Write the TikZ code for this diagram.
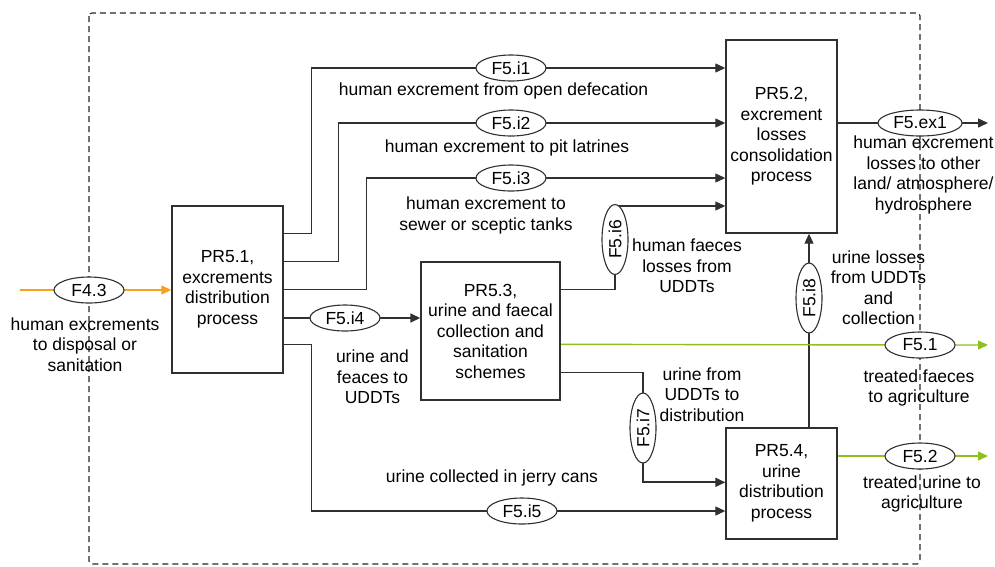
\documentclass[tikz,border=0pt]{standalone}
\usepackage{fontspec}
\setmainfont{Liberation Sans}
\usetikzlibrary{arrows.meta,shapes.geometric,backgrounds,calc}
\definecolor{ln}{HTML}{303030}
\definecolor{orng}{HTML}{F7A21B}
\definecolor{grn}{HTML}{8CC21E}
\begin{document}
\begin{tikzpicture}[x=1pt,y=-1pt,
  font=\fontsize{17.5}{20.5}\selectfont,
  proc/.style={draw=ln, line width=1.4pt, fill=white, align=center, inner sep=0pt},
  flowid/.style={ellipse, draw=ln, line width=1.1pt, fill=white, inner xsep=3pt, inner ysep=2pt, minimum width=70pt, minimum height=26pt},
  lbl/.style={align=center, inner sep=0pt, text=black},
  conn/.style={draw=ln, line width=1.2pt},
  arr/.style={conn, -{Triangle[length=10pt,width=9pt]}},
  oarr/.style={draw=orng, line width=1.2pt, -{Triangle[length=10pt,width=9pt]}},
  garr/.style={draw=grn, line width=1.4pt, -{Triangle[length=10pt,width=9pt]}},
  frame/.style={draw=black!85, line width=1.1pt, dash pattern=on 6pt off 4pt, rounded corners=3pt}
]
\useasboundingbox (0,0) rectangle (995,566);

% process boxes
\node[proc, minimum width=111pt, minimum height=167pt] (pr51) at (227.5,289.5) {PR5.1,\\excrements\\distribution\\process};
\node[proc, minimum width=111pt, minimum height=193pt] (pr52) at (781.5,136.5) {PR5.2,\\excrement\\losses\\consolidation\\process};
\node[proc, minimum width=139pt, minimum height=138pt] (pr53) at (490.5,331) {PR5.3,\\urine and faecal\\collection and\\sanitation\\schemes};
\node[proc, minimum width=111pt, minimum height=111pt] (pr54) at (781.5,483.5) {PR5.4,\\urine\\distribution\\process};

% flow identifiers
\node[flowid] (f43) at (89,290) {F4.3};
\node[flowid] (f5i1) at (511,68) {F5.i1};
\node[flowid] (f5i2) at (511,123) {F5.i2};
\node[flowid] (f5i3) at (511,178) {F5.i3};
\node[flowid] (f5i4) at (345,318) {F5.i4};
\node[flowid] (f5i5) at (522,511) {F5.i5};
\node[flowid, rotate=90] (f5i6) at (615,239.5) {F5.i6};
\node[flowid, rotate=90] (f5i7) at (643,428) {F5.i7};
\node[flowid, rotate=90] (f5i8) at (809,298) {F5.i8};
\node[flowid] (f5ex1) at (920,123) {F5.ex1};
\node[flowid] (f51) at (920,345) {F5.1};
\node[flowid] (f52) at (920,456) {F5.2};

% labels
\node[lbl] (l43) at (85,344.5) {human excrements\\to disposal or\\sanitation};
\node[lbl] (l1) at (493.5,91) {human excrement from open defecation};
\node[lbl] (l2) at (507,148) {human excrement to pit latrines};
\node[lbl] (l3) at (486,215.5) {human excrement to\\sewer or sceptic tanks};
\node[lbl] (l4) at (372.5,377) {urine and\\feaces to\\UDDTs};
\node[lbl] (l5) at (492,478) {urine collected in jerry cans};
\node[lbl] (l6) at (687,266) {human faeces\\losses from\\UDDTs};
\node[lbl] (l7) at (702,394.5) {urine from\\UDDTs to\\distribution};
\node[lbl] (l8) at (878.5,287.5) {urine losses\\from UDDTs\\and\\collection};
\node[lbl] (lex1) at (923.5,175) {human excrement\\losses to other\\land/ atmosphere/\\hydrosphere};
\node[lbl] (l51) at (919,388) {treated faeces\\to agriculture};
\node[lbl] (l52) at (922,494) {treated urine to\\agriculture};

% free ends and exit points
\coordinate (s43) at (20,290);
\coordinate (o1) at ($(pr51.north east)+(0,28)$);
\coordinate (o2) at ($(pr51.north east)+(0,56)$);
\coordinate (o3) at ($(pr51.north east)+(0,84)$);
\coordinate (o5) at ($(pr51.north east)+(0,139)$);
\coordinate (a6) at ($(pr53.north east)+(0,28)$);
\coordinate (c6) at (615,206);
\coordinate (a7) at ($(pr53.north east)+(0,111)$);
\coordinate (i7) at ($(pr54.north west)+(0,55)$);
\coordinate (a51) at ($(pr53.north east)+(0,83)$);
\coordinate (e51) at (988,345);
\coordinate (e52) at (988,456);
\coordinate (eex) at (988,123);

\begin{scope}[on background layer]
\draw[frame] (89,13) rectangle (920,564);
\draw[oarr] (s43) -- (pr51.west |- f43);
\draw[arr] (o1) -- ++(28,0) |- (f5i1.center) -- (pr52.west |- f5i1);
\draw[arr] (o2) -- ++(55,0) |- (f5i2.center) -- (pr52.west |- f5i2);
\draw[arr] (o3) -- ++(83,0) |- (f5i3.center) -- (pr52.west |- f5i3);
\draw[arr, line width=1.6pt] (pr51.east |- f5i4) -- (f5i4.center) -- (pr53.west |- f5i4);
\draw[arr] (o5) -- ++(28,0) |- (f5i5.center) -- (pr54.west |- f5i5);
\draw[arr] (a6) -| (c6) -- (pr52.west |- c6);
\draw[conn] (a7) -| (f5i7.center);
\draw[arr, line width=1.8pt] (f5i7.center) |- (i7);
\draw[arr] (f5i8 |- pr54.north) -- (f5i8.center) -- (f5i8 |- pr52.south);
\draw[arr, line width=1.4pt] (pr52.east |- f5ex1) -- (f5ex1.center) -- (eex);
\draw[garr] (a51) -- (f51.center) -- (e51);
\draw[garr] (pr54.east |- f52) -- (f52.center) -- (e52);
\end{scope}
\end{tikzpicture}
\end{document}
